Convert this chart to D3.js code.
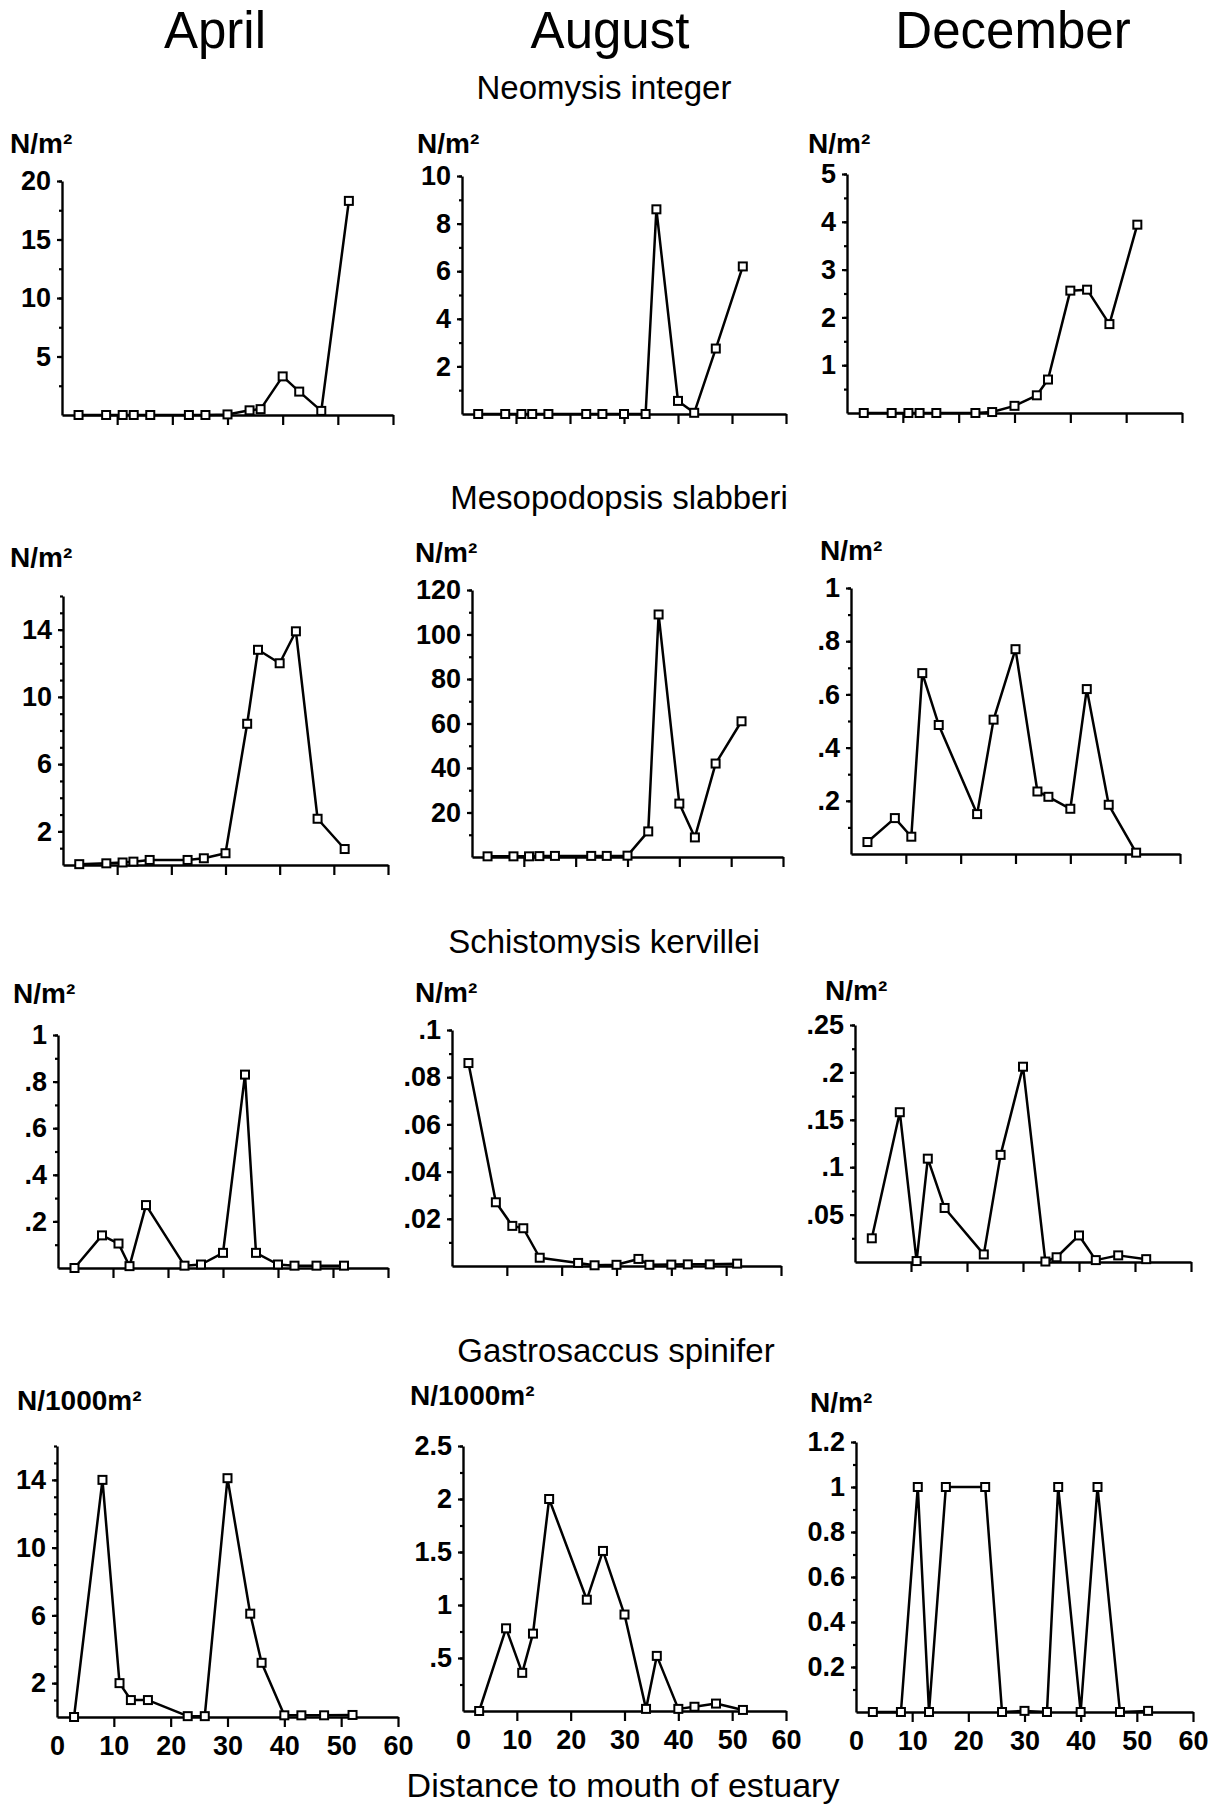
<!DOCTYPE html>
<html>
<head>
<meta charset="utf-8">
<script src="https://cdn.jsdelivr.net/npm/d3@7"></script>
<style>
  body { margin: 0; background: #fff; }
  svg text { font-family: "Liberation Sans", Arial, Helvetica, sans-serif; fill: #000; }
</style>
</head>
<body>
<script>
let width = 1217
let height = 1805

//////////////////////////////////////////////////////////////////////
// DATA
//////////////////////////////////////////////////////////////////////
// sampling stations (km from the mouth of the estuary)
let stations = [3, 8, 11, 13, 16, 23, 26, 30, 34, 36, 40, 43, 47, 52]

let months = ["April", "August", "December"]
let species = [
  "Neomysis integer",
  "Mesopodopsis slabberi",
  "Schistomysis kervillei",
  "Gastrosaccus spinifer",
]

// densities, one value per station
let neomysis_apr = [0, 0, 0, 0, 0, 0, 0, 0.05, 0.4, 0.5, 3.3, 2.0, 0.35, 18.3]
let neomysis_aug = [0, 0, 0, 0, 0, 0, 0, 0, 0, 8.6, 0.55, 0.05, 2.75, 6.2]
let neomysis_dec = [0, 0, 0, 0, 0, 0, 0.02, 0.15, 0.37, 0.7, 2.56, 2.58, 1.86, 3.94]

let meso_apr = [0.05, 0.1, 0.15, 0.2, 0.3, 0.3, 0.4, 0.7, 8.4, 12.8, 12.0, 13.9, 2.75, 0.95]
let meso_aug = [0.3, 0.3, 0.3, 0.4, 0.5, 0.5, 0.5, 0.6, 11.5, 109, 24, 8.8, 42, 61]
let meso_dec = [0.045, 0.135, 0.065, 0.68, 0.485, 0.15, 0.505, 0.77, 0.235, 0.215, 0.17, 0.62, 0.185, 0.005]

let schisto_apr = [0, 0.14, 0.105, 0.008, 0.27, 0.01, 0.015, 0.065, 0.83, 0.065, 0.015, 0.01, 0.01, 0.01]
let schisto_aug = [0.086, 0.027, 0.017, 0.016, 0.0035, 0.0013, 0.0003, 0.0005, 0.003, 0.0005, 0.0006, 0.0007, 0.0007, 0.001]
let schisto_dec = [0.025, 0.158, 0.001, 0.109, 0.057, 0.008, 0.113, 0.206, 0.0005, 0.005, 0.028, 0.002, 0.007, 0.003]

let gastro_apr = [0, 14, 2, 1, 1, 0.05, 0.05, 14.1, 6.1, 3.2, 0.1, 0.1, 0.1, 0.12]
let gastro_aug = [0, 0.78, 0.36, 0.73, 2.0, 1.05, 1.51, 0.91, 0.02, 0.52, 0.02, 0.04, 0.07, 0.01]
let gastro_dec = [0, 0, 1, 0, 1, 1, 0, 0.005, 0, 1, 0, 1, 0, 0.005]

let series = [
  neomysis_apr, neomysis_aug, neomysis_dec,
  meso_apr, meso_aug, meso_dec,
  schisto_apr, schisto_aug, schisto_dec,
  gastro_apr, gastro_aug, gastro_dec,
]

let units = [
  "N/m²", "N/m²", "N/m²",
  "N/m²", "N/m²", "N/m²",
  "N/m²", "N/m²", "N/m²",
  "N/1000m²", "N/1000m²", "N/m²",
]

let y_max = [20, 10, 5, 16, 120, 1, 1, 0.1, 0.25, 16, 2.5, 1.2]
let y_ticks = [
  [5, 10, 15, 20], [2, 4, 6, 8, 10], [1, 2, 3, 4, 5],
  [2, 6, 10, 14], [20, 40, 60, 80, 100, 120], [0.2, 0.4, 0.6, 0.8, 1],
  [0.2, 0.4, 0.6, 0.8, 1], [0.02, 0.04, 0.06, 0.08, 0.1], [0.05, 0.1, 0.15, 0.2, 0.25],
  [2, 6, 10, 14], [0.5, 1, 1.5, 2, 2.5], [0.2, 0.4, 0.6, 0.8, 1, 1.2],
]
let y_labels = [
  ["5", "10", "15", "20"], ["2", "4", "6", "8", "10"], ["1", "2", "3", "4", "5"],
  ["2", "6", "10", "14"], ["20", "40", "60", "80", "100", "120"], [".2", ".4", ".6", ".8", "1"],
  [".2", ".4", ".6", ".8", "1"], [".02", ".04", ".06", ".08", ".1"], [".05", ".1", ".15", ".2", ".25"],
  ["2", "6", "10", "14"], [".5", "1", "1.5", "2", "2.5"], ["0.2", "0.4", "0.6", "0.8", "1", "1.2"],
]
let y_minor = [2.5, 1, 0.5, 1, 10, 0.1, 0.1, 0.01, 0.025, 1, 0.25, 0.1]
let x_ticks = [0, 10, 20, 30, 40, 50, 60]

//////////////////////////////////////////////////////////////////////
// LAYOUT (plot frames of the scanned figure, pixels)
//////////////////////////////////////////////////////////////////////
let frames = [
  { x0: 62, x1: 393, top: 181, base: 415, ux: 10, uy: 153 },
  { x0: 462, x1: 786, top: 176, base: 414, ux: 417, uy: 153 },
  { x0: 847, x1: 1182, top: 174, base: 413, ux: 808, uy: 153 },
  { x0: 63, x1: 388, top: 596, base: 865, ux: 10, uy: 567 },
  { x0: 472, x1: 783, top: 590, base: 857, ux: 415, uy: 562 },
  { x0: 851, x1: 1180, top: 588, base: 854, ux: 820, uy: 560 },
  { x0: 58, x1: 388, top: 1035, base: 1268, ux: 13, uy: 1003 },
  { x0: 452, x1: 781, top: 1030, base: 1266, ux: 415, uy: 1002 },
  { x0: 855, x1: 1191, top: 1025, base: 1262, ux: 825, uy: 1000 },
  { x0: 57, x1: 398, top: 1446, base: 1717, ux: 17, uy: 1410 },
  { x0: 463, x1: 786, top: 1446, base: 1711, ux: 410, uy: 1405 },
  { x0: 856, x1: 1193, top: 1442, base: 1712, ux: 810, uy: 1412 },
]
let month_x = [215, 610, 1013]
let species_y = [99, 509, 953, 1362]
let species_x = [604, 619, 604, 616]

//////////////////////////////////////////////////////////////////////
// DRAW
//////////////////////////////////////////////////////////////////////
const svg = d3
  .select("body")
  .append("svg")
  .attr("width", width)
  .attr("height", height)

svg
  .append("g")
  .selectAll("text")
  .data(months)
  .join("text")
  .attr("x", (d, i) => month_x[i])
  .attr("y", 48)
  .attr("text-anchor", "middle")
  .style("font-size", "51px")
  .text((d) => d)

svg
  .append("g")
  .selectAll("text")
  .data(species)
  .join("text")
  .attr("x", (d, i) => species_x[i])
  .attr("y", (d, i) => species_y[i])
  .attr("text-anchor", "middle")
  .style("font-size", "33px")
  .text((d) => d)

svg
  .append("text")
  .attr("x", 623)
  .attr("y", 1797)
  .attr("text-anchor", "middle")
  .style("font-size", "34px")
  .text("Distance to mouth of estuary")

series.forEach((values, i) => {
  const f = frames[i]
  const bottom_row = i >= 9
  const x = d3.scaleLinear().domain([0, 60]).range([f.x0, f.x1])
  const y = d3.scaleLinear().domain([0, y_max[i]]).range([f.base, f.top])
  const g = svg.append("g")

  // minor ticks on the y axis
  const n_minor = Math.round(y_max[i] / y_minor[i])
  g.append("g")
    .attr("transform", `translate(${f.x0},0)`)
    .call(
      d3
        .axisLeft(y)
        .tickValues(d3.range(1, n_minor + 1).map((k) => k * y_minor[i]))
        .tickSize(3)
        .tickSizeOuter(0)
        .tickFormat("")
    )
    .call((a) => a.select(".domain").remove())

  // labelled y axis
  const ya = g
    .append("g")
    .attr("transform", `translate(${f.x0},0)`)
    .call(
      d3
        .axisLeft(y)
        .tickValues(y_ticks[i])
        .tickFormat((d, j) => y_labels[i][j])
        .tickSize(5)
        .tickPadding(6)
        .tickSizeOuter(0)
    )

  // x axis
  const xa = g
    .append("g")
    .attr("transform", `translate(0,${f.base})`)
    .call(
      d3
        .axisBottom(x)
        .tickValues(x_ticks)
        .tickSize(10)
        .tickPadding(9)
        .tickSizeOuter(0)
        .tickFormat(bottom_row ? d3.format("d") : "")
    )
  xa.selectAll(".tick")
    .filter((d) => d === 0)
    .select("line")
    .remove()

  for (const a of [ya, xa]) {
    a.select(".domain").attr("stroke", "#000").attr("stroke-width", 2.4)
    a.selectAll(".tick text")
      .style("font-size", "27px")
      .style("font-weight", "bold")
      .attr("fill", "#000")
  }
  g.selectAll(".tick line").attr("stroke", "#000").attr("stroke-width", 2.2)

  // unit label
  g.append("text")
    .attr("x", f.ux)
    .attr("y", f.uy)
    .style("font-size", "28px")
    .style("font-weight", "bold")
    .text(units[i])

  // series line + open square markers
  const pts = stations.map((s, j) => [s, values[j]])
  const line = d3
    .line()
    .x((d) => x(d[0]))
    .y((d) => y(d[1]))

  g.append("path")
    .datum(pts)
    .attr("d", line)
    .attr("fill", "none")
    .attr("stroke", "#000")
    .attr("stroke-width", 2.5)
    .attr("stroke-linejoin", "round")

  g.append("g")
    .selectAll("rect")
    .data(pts)
    .join("rect")
    .attr("x", (d) => x(d[0]) - 4)
    .attr("y", (d) => y(d[1]) - 4)
    .attr("width", 8)
    .attr("height", 8)
    .attr("fill", "#fff")
    .attr("stroke", "#000")
    .attr("stroke-width", 2)
})
</script>
</body>
</html>
